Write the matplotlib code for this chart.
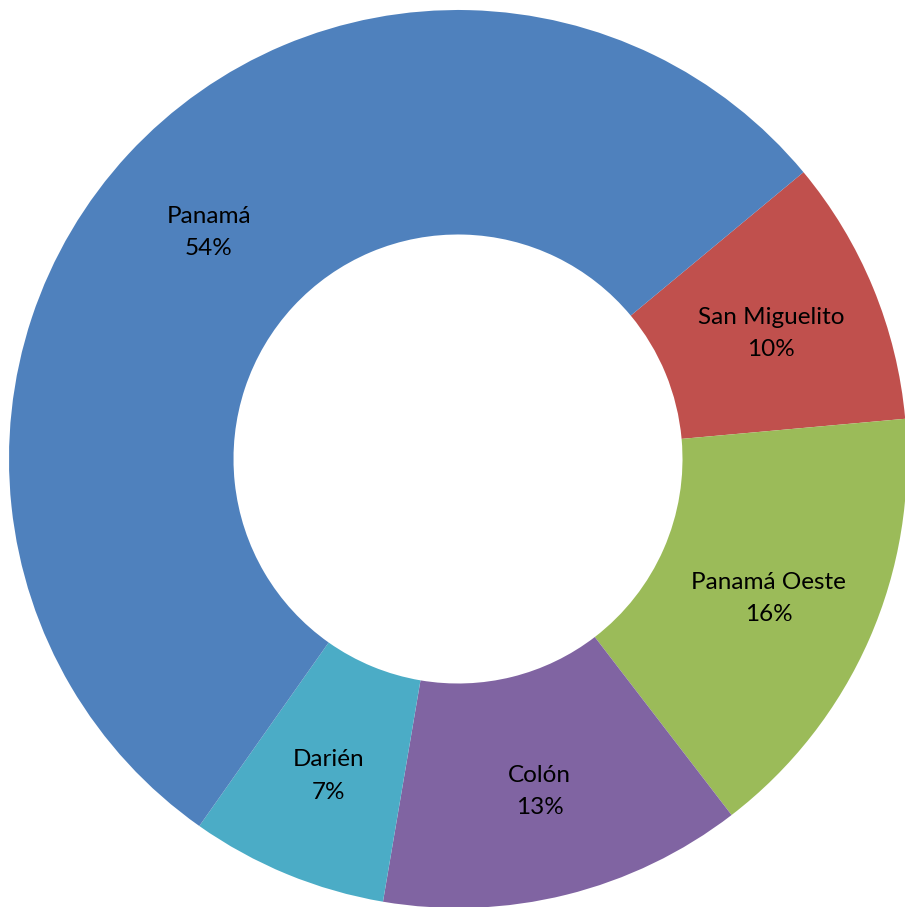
import matplotlib
matplotlib.use('Agg')
import matplotlib.pyplot as plt
import numpy as np

# Donut chart of regions (clockwise from San Miguelito)
labels = ['San Miguelito', 'Panamá Oeste', 'Colón', 'Darién', 'Panamá']
values = [9.6, 16.0, 13.1, 7.1, 54.2]
colors = ['#C0504D', '#9BBB59', '#8064A2', '#4BACC6', '#4F81BD']

plt.rcParams['font.family'] = ['Lato', 'DejaVu Sans']

fig = plt.figure(figsize=(9.05, 9.07), dpi=100)
ax = fig.add_axes([0, 0, 1, 1])

total = sum(values)

wedges = ax.pie(values, colors=colors, startangle=39.7, counterclock=False,
                radius=1, wedgeprops=dict(width=0.5, linewidth=0))[0]

# labels at middle of the ring
for w, lab, v in zip(wedges, labels, values):
    ang = np.deg2rad((w.theta1 + w.theta2) / 2)
    r = 0.755
    ax.text(r * np.cos(ang), r * np.sin(ang) - 0.008,
            '%s\n%d%%' % (lab, round(v / total * 100)),
            ha='center', va='center', fontsize=17.5, linespacing=1.65, color='black')

# pixel mapping: center at (458, 459), radius 449 px
R = 449.0
ax.set_xlim(-458 / R, (905 - 458) / R)
ax.set_ylim(-(907 - 459) / R, 459 / R)
ax.set_aspect('auto')
ax.axis('off')

fig.savefig('out.png', dpi=100)
